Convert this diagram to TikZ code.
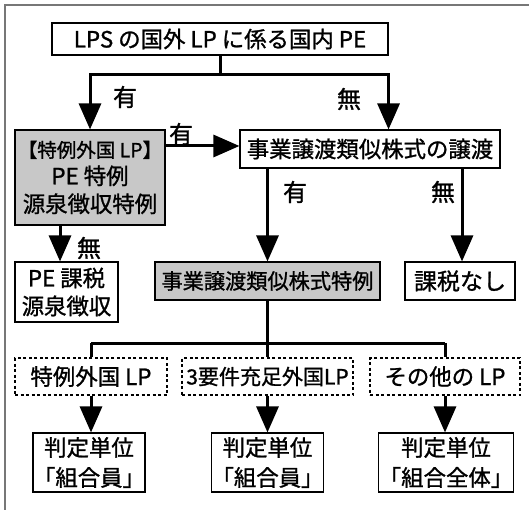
\documentclass[tikz,border=0pt]{standalone}
\usepackage{fontspec}
\setmainfont{Noto Sans CJK JP}[UprightFeatures={FakeBold=1.1}]
\usetikzlibrary{arrows.meta}
\definecolor{boxgray}{HTML}{C8C8C8}
\definecolor{framegray}{HTML}{777777}
\tikzset{
  box/.style={draw=black, line width=1.1pt, inner sep=0pt, align=center,
    font=\fontsize{22.4}{28}\selectfont},
  graybox/.style={box, fill=boxgray},
  dbox/.style={box, dash pattern=on 3pt off 2.5pt},
  conn/.style={line width=3pt},
  arr/.style={line width=3pt, -{Triangle[width=22pt,length=26pt]}},
  lbl/.style={font=\fontsize{24}{24}\selectfont, inner sep=0pt}
}
\begin{document}
\begin{tikzpicture}[x=1pt,y=-1pt]
\useasboundingbox (0,0) rectangle (529,510);
\draw[framegray, line width=1.6pt] (5,510) -- (5,5) -- (529,5);

\node[box, minimum width=336pt, minimum height=32pt] (top) at (220,39) {LPS の国外 LP に係る国内 PE};
\node[graybox, minimum width=150pt, minimum height=95pt] (sp) at (90,177.5)
  {{\fontsize{19.5}{22}\selectfont【特例外国 LP】}\\[-1pt]PE 特例\\源泉徴収特例};
\node[box, minimum width=260pt, minimum height=38pt] (joto) at (370,149) {事業譲渡類似株式の譲渡};
\node[box, minimum width=103pt, minimum height=60pt] (pe) at (66.5,292) {PE 課税\\源泉徴収};
\node[graybox, minimum width=225pt, minimum height=38pt, font=\fontsize{21.2}{28}\selectfont] (tok) at (267.5,281) {事業譲渡類似株式特例};
\node[box, minimum width=110pt, minimum height=38pt, font=\fontsize{23}{28}\selectfont] (nashi) at (460,281) {課税なし};
\node[dbox, minimum width=152pt, minimum height=37pt] (d1) at (91,376.5) {特例外国 LP};
\node[dbox, minimum width=171pt, minimum height=37pt, font=\fontsize{21}{24}\selectfont] (d2) at (267.5,376.5) {3要件充足外国LP};
\node[dbox, minimum width=150pt, minimum height=37pt] (d3) at (445,376.5) {その他の LP};
\node[box, minimum width=112pt, minimum height=59pt, font=\fontsize{22.4}{30}\selectfont] (b1) at (89,462.5) {判定単位\\「組合員」};
\node[box, minimum width=111pt, minimum height=59pt, font=\fontsize{22.4}{30}\selectfont] (b2) at (267.5,462.5) {判定単位\\「組合員」};
\node[box, minimum width=132pt, minimum height=59pt, font=\fontsize{22.4}{30}\selectfont] (b3) at (446,462.5) {判定単位\\「組合全体」};

% connectors
\coordinate (j1) at (220,75);
\draw[conn] (top.south) -- (j1);
\draw[arr] (j1) -| (sp.north);
\draw[arr] (j1) -| (joto.north -| top.east);
\draw[arr] ([yshift=3pt]sp.east |- joto.west) -- ([yshift=3pt]joto.west);
\draw[arr] (joto.south -| tok.north) -- (tok.north);
\draw[arr] (joto.south -| 462,0) -- (nashi.north -| 462,0);
\draw[arr] ([xshift=-30pt]sp.south) -- ([xshift=-30pt]sp.south |- pe.north);
\coordinate (j2) at (267.5,343);
\draw[conn] (tok.south) -- (j2);
\draw[conn] (d1.north |- j2) -- (d3.north |- j2);
\draw[conn] (d1.north |- j2) -- (d1.north);
\draw[conn] (j2) -- (d2.north);
\draw[conn] (d3.north |- j2) -- (d3.north);
\draw[arr] (d1.south) -- (d1.south |- b1.north);
\draw[arr] (d2.south) -- (d2.south |- b2.north);
\draw[arr] (d3.south) -- (d3.south |- b3.north);

% labels
\node[lbl] (l1) at (125,97) {有};
\node[lbl] (l2) at (349,99) {無};
\node[lbl] (l3) at (181,134) {有};
\node[lbl] (l4) at (295,192) {有};
\node[lbl] (l5) at (443,192) {無};
\node[lbl] (l6) at (89,248) {無};
\end{tikzpicture}
\end{document}
